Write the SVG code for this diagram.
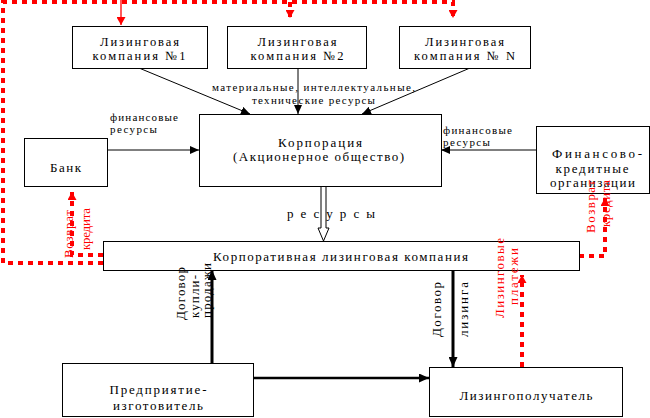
<svg xmlns="http://www.w3.org/2000/svg" width="650" height="418" viewBox="0 0 650 418">
<style>
  .box { fill: #ffffff; stroke: #000000; stroke-width: 1; }
  .t { font-family: 'Liberation Serif', 'DejaVu Serif', serif; font-size: 13px; fill: #000000; }
  .b { font-size: 12.5px; }
  .tc { text-anchor: middle; }
  .s { font-size: 11px; }
  .red { fill: #ff0000; }
  .ln { fill: none; stroke: #000000; stroke-width: 1; }
  .thick { fill: none; stroke: #000000; stroke-width: 3; }
  .rd { fill: none; stroke: #ff0000; stroke-width: 4; stroke-dasharray: 5 5; }
  .rthin { fill: none; stroke: #ff0000; stroke-width: 1.3; }
</style>
<defs>
  <marker id="ab" markerUnits="userSpaceOnUse" markerWidth="10" markerHeight="8" refX="9" refY="4" orient="auto">
    <path d="M0,0 L9,4 L0,8 z" fill="#000000"/>
  </marker>
  <marker id="abk" markerUnits="userSpaceOnUse" markerWidth="11" markerHeight="9" refX="10" refY="4.5" orient="auto">
    <path d="M0,0 L10,4.5 L0,9 z" fill="#000000"/>
  </marker>
  <marker id="ar" markerUnits="userSpaceOnUse" markerWidth="9" markerHeight="9" refX="8" refY="4.5" orient="auto">
    <path d="M0,0 L8,4.5 L0,9 z" fill="#ff0000"/>
  </marker>
</defs>
<rect x="0" y="0" width="650" height="418" fill="#ffffff"/>

<g id="connectors">
  <path class="rd" d="M103,263 L3,263 L3,2 L453,2 L453,18" marker-end="url(#ar)"/>
  <path class="rd" d="M290,2 L290,18" marker-end="url(#ar)"/>
  <path class="rthin" d="M121,0 L121,25" marker-end="url(#ar)"/>
  <path class="rd" d="M103,255 L72,255 L72,192" marker-end="url(#ar)"/>
  <path class="rd" d="M579,256 L605,256 L605,198" marker-end="url(#ar)"/>
  <path class="rd" d="M522,367 L522,275" marker-end="url(#ar)"/>

  <path class="ln" d="M139,68 L250,114" marker-end="url(#ab)"/>
  <path class="ln" d="M298,68 L298,114" marker-end="url(#ab)"/>
  <path class="ln" d="M470,68 L362,114" marker-end="url(#ab)"/>
  <path class="ln" d="M107,150 L199,150" marker-end="url(#ab)"/>
  <path class="ln" d="M536,150 L441,150" marker-end="url(#ab)"/>

  <path d="M321,186 L321,228 L318,228 L323.5,241 L329,228 L326,228 L326,186" fill="#ffffff" stroke="#000000" stroke-width="1"/>

  <path class="thick" d="M212,363 L212,270" marker-end="url(#abk)"/>
  <path class="thick" d="M453,270 L453,367" marker-end="url(#abk)"/>
  <path class="thick" style="stroke-width:2.5" d="M254,378 L429,378" marker-end="url(#abk)"/>
</g>

<g id="lc1">
  <rect class="box" x="72.5" y="26.5" width="135" height="42"/>
  <text class="t b tc" x="139.5" y="46" textLength="79" lengthAdjust="spacing">Лизинговая</text>
  <text class="t b tc" x="139" y="60" textLength="93" lengthAdjust="spacing">компания №1</text>
</g>
<g id="lc2">
  <rect class="box" x="227.5" y="26.5" width="139" height="42"/>
  <text class="t b tc" x="297" y="46" textLength="79" lengthAdjust="spacing">Лизинговая</text>
  <text class="t b tc" x="297" y="60" textLength="93" lengthAdjust="spacing">компания №2</text>
</g>
<g id="lcN">
  <rect class="box" x="399.5" y="26.5" width="131" height="42"/>
  <text class="t b tc" x="464.5" y="46" textLength="79" lengthAdjust="spacing">Лизинговая</text>
  <text class="t b tc" x="464.5" y="60" textLength="101" lengthAdjust="spacing">компания № N</text>
</g>
<g id="corporation">
  <rect class="box" x="199.5" y="114.5" width="242" height="72"/>
  <text class="t tc" x="320" y="147" textLength="84" lengthAdjust="spacing">Корпорация</text>
  <text class="t tc" x="318.5" y="161" textLength="171" lengthAdjust="spacing">(Акционерное общество)</text>
</g>
<g id="bank">
  <rect class="box" x="24.5" y="138.5" width="83" height="48"/>
  <text class="t tc" x="65.5" y="172" textLength="31" lengthAdjust="spacing">Банк</text>
</g>
<g id="finorg">
  <rect class="box" x="536.5" y="126.5" width="113" height="67"/>
  <text class="t tc" x="597" y="158" textLength="90" lengthAdjust="spacing">Финансово-</text>
  <text class="t tc" x="592" y="173" textLength="73" lengthAdjust="spacing">кредитные</text>
  <text class="t tc" x="592.5" y="187" textLength="85" lengthAdjust="spacing">организации</text>
</g>
<g id="corpleasing">
  <rect class="box" x="103.5" y="241.5" width="476" height="29"/>
  <text class="t tc" x="340.5" y="261" textLength="255" lengthAdjust="spacing">Корпоративная лизинговая компания</text>
</g>
<g id="manufacturer">
  <rect class="box" x="62.5" y="363.5" width="191" height="53"/>
  <text class="t tc" x="158" y="394" textLength="97" lengthAdjust="spacing">Предприятие-</text>
  <text class="t tc" x="158" y="410" textLength="90" lengthAdjust="spacing">изготовитель</text>
</g>
<g id="lessee">
  <rect class="box" x="429.5" y="367.5" width="193" height="49"/>
  <text class="t tc" x="526" y="400" textLength="133" lengthAdjust="spacing">Лизингополучатель</text>
</g>

<g id="labels">
  <text class="t s tc" x="313.5" y="91" textLength="203" lengthAdjust="spacing">материальные, интеллектуальные,</text>
  <text class="t s tc" x="313.5" y="104" textLength="123" lengthAdjust="spacing">технические ресурсы</text>
  <text class="t s" x="110" y="121" textLength="68" lengthAdjust="spacing">финансовые</text>
  <text class="t s" x="110" y="133" textLength="47" lengthAdjust="spacing">ресурсы</text>
  <text class="t s" x="443" y="134" textLength="69" lengthAdjust="spacing">финансовые</text>
  <text class="t s" x="443" y="146" textLength="47" lengthAdjust="spacing">ресурсы</text>
  <text class="t" x="287" y="218" textLength="88" lengthAdjust="spacing">р е с у р с ы</text>

  <text class="t" transform="translate(185,320) rotate(-90)" textLength="53" lengthAdjust="spacing">Договор</text>
  <text class="t" transform="translate(199,318) rotate(-90)" textLength="43" lengthAdjust="spacing">купли-</text>
  <text class="t" transform="translate(211,318) rotate(-90)" textLength="55" lengthAdjust="spacing">продажи</text>

  <text class="t" transform="translate(441,337) rotate(-90)" textLength="55" lengthAdjust="spacing">Договор</text>
  <text class="t" transform="translate(468,337) rotate(-90)" textLength="55" lengthAdjust="spacing">лизинга</text>

  <text class="t red" transform="translate(504,318) rotate(-90)" textLength="80" lengthAdjust="spacing">Лизинговые</text>
  <text class="t red" transform="translate(518,305) rotate(-90)" textLength="57" lengthAdjust="spacing">платежи</text>

  <text class="t red" transform="translate(73,258) rotate(-90)" textLength="48" lengthAdjust="spacing">Возврат</text>
  <text class="t red" transform="translate(90,250) rotate(-90)" textLength="42" lengthAdjust="spacing">кредита</text>

  <text class="t red" transform="translate(595,233) rotate(-90)" textLength="53" lengthAdjust="spacing">Возврат</text>
  <text class="t red" transform="translate(610,227) rotate(-90)" textLength="47" lengthAdjust="spacing">кредита</text>
</g>
</svg>
